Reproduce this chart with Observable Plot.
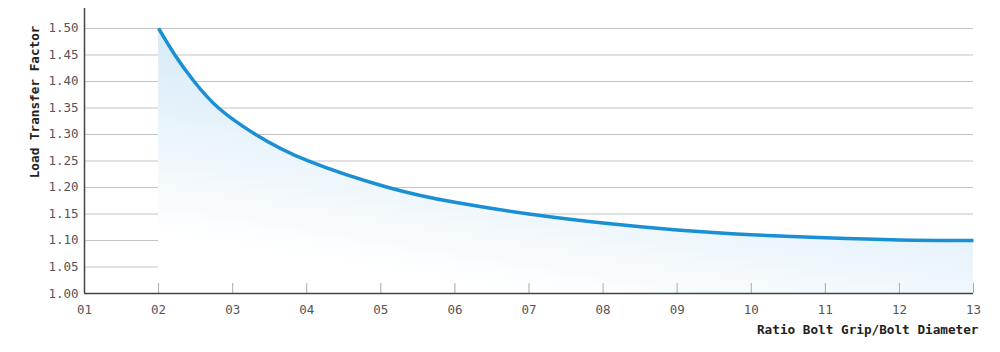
<!DOCTYPE html>
<html>
<head>
<meta charset="utf-8">
<script src="https://cdn.jsdelivr.net/npm/d3@7"></script>
<script src="https://cdn.jsdelivr.net/npm/@observablehq/plot@0.6"></script>
<style>
  html, body { margin: 0; padding: 0; background: #fff; }
  #chart svg { display: block; }
</style>
</head>
<body>
<div id="chart"></div>
<script>
// Data
const ratio = [2, 2.22, 2.48, 2.81, 3.31, 4.02, 5.1, 6, 7, 8, 9, 10, 11, 12, 13];
const factor = [1.500, 1.450, 1.400, 1.350, 1.300, 1.250, 1.200, 1.172, 1.150, 1.133, 1.120, 1.111, 1.105, 1.101, 1.100];
const xTicks = [1, 2, 3, 4, 5, 6, 7, 8, 9, 10, 11, 12, 13];
const yTicks = [1.00, 1.05, 1.10, 1.15, 1.20, 1.25, 1.30, 1.35, 1.40, 1.45, 1.50];
const xLabel = "Ratio Bolt Grip/Bolt Diameter";
const yLabel = "Load Transfer Factor";

const data = ratio.map((r, i) => ({r, v: factor[i]}));
const font = "'DejaVu Sans Mono', 'Liberation Mono', monospace";

const defs = () => {
  const d = d3.create("svg:defs");
  const g = d.append("linearGradient")
    .attr("id", "areaGrad")
    .attr("x1", 0).attr("y1", 0).attr("x2", -0.4).attr("y2", 0.8);
  g.append("stop").attr("offset", 0).attr("stop-color", "#d6eaf8");
  g.append("stop").attr("offset", 0.78).attr("stop-color", "#ffffff");
  return d.node();
};

const chart = Plot.plot({
  width: 1000,
  height: 352,
  marginLeft: 84,
  marginRight: 27,
  marginTop: 8,
  marginBottom: 59,
  style: {fontFamily: font, background: "#fff"},
  x: {domain: [1, 13]},
  y: {domain: [1, 1.5377]},
  marks: [
    defs,
    Plot.gridY(yTicks, {stroke: "#c4c4c4", strokeOpacity: 1, strokeWidth: 1}),
    Plot.areaY(data, {x: "r", y1: yTicks[0], y2: "v", fill: "url(#areaGrad)", curve: "natural"}),
    Plot.ruleX(xTicks, {x: d => d, insetTop: 275, stroke: "#aaa", strokeWidth: 1}),
    Plot.ruleX([xTicks[0]], {stroke: "#444", strokeWidth: 1.5}),
    Plot.ruleY([yTicks[0]], {stroke: "#444", strokeWidth: 1.5}),
    Plot.line(data, {x: "r", y: "v", stroke: "#1b8fd4", strokeWidth: 3.5, curve: "natural", strokeLinecap: "butt"}),
    Plot.axisY(yTicks, {tickSize: 0, tickPadding: 6, tickFormat: d3.format(".2f"), label: null, fontSize: 12.5, fill: "#555"}),
    Plot.axisX(xTicks, {tickSize: 0, tickPadding: 12, tickFormat: d => String(d).padStart(2, "0"), label: null, fontSize: 12.5, fill: "#555"}),
    Plot.text([yLabel], {frameAnchor: "top-left", rotate: -90, textAnchor: "end", dx: -55, dy: 17, fontSize: 12.7, fontWeight: "bold", fill: "#222"}),
    Plot.text([xLabel], {frameAnchor: "bottom-right", textAnchor: "end", dx: 5, dy: 40, fontSize: 12.7, fontWeight: "bold", fill: "#222"})
  ]
});
document.getElementById("chart").appendChild(chart);
</script>
</body>
</html>
